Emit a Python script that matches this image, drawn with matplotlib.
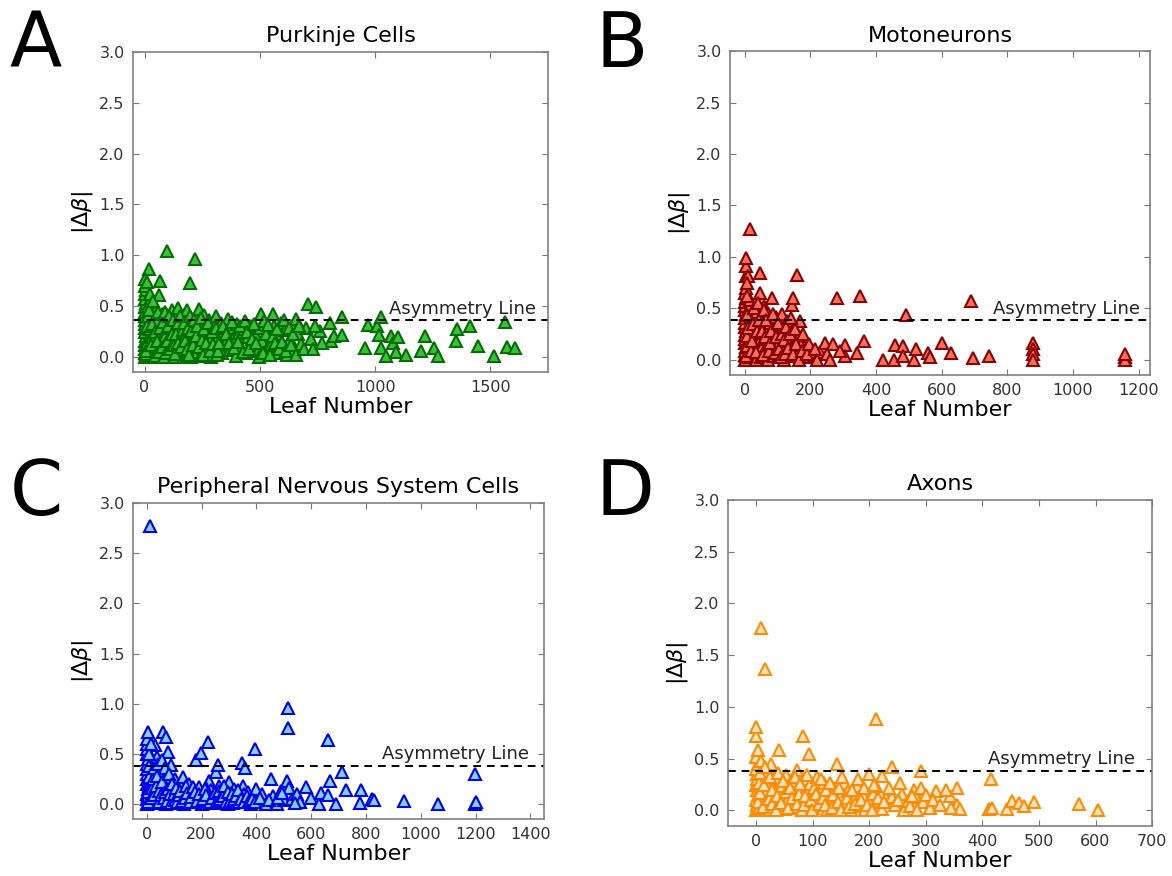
import numpy as np
import matplotlib
matplotlib.use("Agg")
import matplotlib.pyplot as plt

# values (leaf number, |delta beta|)
purkinje_pts = [
    (2, 0.00), (4, 0.04), (1, 0.08), (3, 0.12), (2, 0.16), (5, 0.20), (1, 0.24), (3, 0.28),
    (2, 0.32), (4, 0.36), (1, 0.40), (3, 0.44), (2, 0.49), (5, 0.53), (1, 0.57), (4, 0.62),
    (6, 0.66), (4, 0.70), (19, 0.86), (4, 0.77), (10, 0.74), (18, 0.02), (22, 0.10), (15, 0.18),
    (25, 0.27), (20, 0.35), (28, 0.43), (16, 0.50), (30, 0.58), (24, 0.62), (35, 0.05), (40, 0.15),
    (38, 0.22), (45, 0.31), (42, 0.40), (50, 0.47), (55, 0.00), (60, 0.09), (58, 0.25), (61, 0.61),
    (69, 0.75), (65, 0.36), (72, 0.18), (80, 0.03), (85, 0.28), (90, 0.12), (95, 0.42), (98, 1.04),
    (100, 0.22), (105, 0.06), (110, 0.33), (115, 0.15), (120, 0.46), (125, 0.00), (130, 0.26),
    (135, 0.38), (140, 0.10), (145, 0.48), (150, 0.20), (155, 0.03), (160, 0.31), (165, 0.13),
    (170, 0.41), (175, 0.06), (184, 0.46), (180, 0.24), (190, 0.35), (196, 0.73), (200, 0.00),
    (205, 0.17), (210, 0.28), (217, 0.96), (220, 0.09), (225, 0.38), (234, 0.47), (230, 0.02),
    (240, 0.22), (250, 0.31), (255, 0.12), (260, 0.41), (265, 0.05), (270, 0.26), (280, 0.36),
    (285, 0.16), (290, 0.00), (300, 0.30), (305, 0.09), (310, 0.40), (320, 0.20), (330, 0.33),
    (335, 0.04), (345, 0.25), (350, 0.13), (360, 0.37), (370, 0.07), (375, 0.28), (385, 0.18),
    (395, 0.01), (400, 0.32), (410, 0.23), (420, 0.10), (430, 0.27), (440, 0.04), (450, 0.19),
    (460, 0.30), (470, 0.13), (480, 0.22), (490, 0.06), (504, 0.42), (500, 0.28), (510, 0.16),
    (520, 0.35), (530, 0.08), (540, 0.25), (550, 0.12), (558, 0.42), (560, 0.30), (570, 0.04),
    (580, 0.20), (590, 0.33), (600, 0.10), (610, 0.26), (620, 0.02), (630, 0.18), (640, 0.30),
    (650, 0.07), (659, 0.37), (665, 0.22), (680, 0.13), (700, 0.28), (709, 0.52), (720, 0.18),
    (745, 0.49), (760, 0.25), (803, 0.33), (810, 0.16), (820, 0.20), (856, 0.39), (856, 0.21),
    (954, 0.09), (968, 0.31), (1007, 0.30), (1019, 0.21), (1025, 0.39), (1025, 0.09), (1047, 0.01),
    (1069, 0.20), (1076, 0.14), (1091, 0.05), (1098, 0.19), (1134, 0.02), (1200, 0.06), (1215, 0.20),
    (1256, 0.09), (1274, 0.01), (1352, 0.16), (1357, 0.27), (1411, 0.30), (1446, 0.11), (1515, 0.01),
    (1562, 0.34), (1572, 0.10), (1606, 0.09),
    (8, 0.03), (12, 0.14), (30, 0.08), (32, 0.19), (48, 0.11), (52, 0.36), (70, 0.02), (75, 0.42),
    (88, 0.20), (92, 0.34), (108, 0.14), (118, 0.03), (128, 0.18), (138, 0.30), (150, 0.06),
    (162, 0.20), (178, 0.00), (195, 0.12), (212, 0.05), (245, 0.01), (275, 0.10), (315, 0.02),
    (5, 0.06), (10, 0.30), (14, 0.40), (20, 0.46), (26, 0.12), (33, 0.32), (36, 0.55), (44, 0.01),
    (47, 0.24), (53, 0.16), (57, 0.44), (63, 0.05), (67, 0.28), (74, 0.10), (78, 0.34), (83, 0.00),
    (87, 0.44), (93, 0.04), (97, 0.16), (103, 0.30), (107, 0.40), (112, 0.08), (117, 0.22),
    (123, 0.36), (127, 0.12), (133, 0.03), (137, 0.22), (143, 0.33), (147, 0.14), (153, 0.40),
    (158, 0.10), (167, 0.26), (172, 0.33), (177, 0.16), (183, 0.08), (188, 0.28), (193, 0.02),
    (198, 0.40), (203, 0.25), (208, 0.12), (215, 0.36), (222, 0.20), (228, 0.30), (236, 0.10),
    (243, 0.38), (248, 0.17), (253, 0.02), (258, 0.27), (268, 0.14), (275, 0.33), (283, 0.06),
    (293, 0.24), (298, 0.13), (308, 0.28), (318, 0.06), (325, 0.14), (340, 0.30), (355, 0.22),
    (365, 0.14), (380, 0.34), (390, 0.09), (405, 0.15), (415, 0.30), (425, 0.05), (435, 0.35),
    (445, 0.24), (455, 0.08), (465, 0.18), (475, 0.32), (485, 0.14), (495, 0.00), (515, 0.04),
    (525, 0.22), (535, 0.31), (545, 0.02), (555, 0.20), (565, 0.14), (575, 0.27), (585, 0.08),
    (595, 0.15), (605, 0.36), (615, 0.06), (625, 0.28), (635, 0.12), (645, 0.22), (655, 0.02),
    (672, 0.30), (690, 0.08), (730, 0.08), (770, 0.14), (740, 0.30),
]

moto_pts = [
    (0, 0.00), (2, 0.04), (1, 0.08), (3, 0.12), (0, 0.16), (2, 0.20), (1, 0.24), (3, 0.28),
    (0, 0.32), (2, 0.36), (1, 0.40), (3, 0.44), (0, 0.48), (2, 0.52), (1, 0.56), (3, 0.60),
    (0, 0.65), (3, 0.70), (3, 0.81), (3, 0.91), (3, 0.99), (17, 1.27), (10, 0.81),
    (12, 0.02), (15, 0.10), (10, 0.18), (18, 0.26), (14, 0.34), (20, 0.42), (12, 0.50), (16, 0.58),
    (25, 0.05), (28, 0.14), (30, 0.22), (26, 0.30), (32, 0.38), (35, 0.00), (38, 0.46), (40, 0.09),
    (42, 0.17), (46, 0.84), (46, 0.65), (45, 0.26), (48, 0.33), (50, 0.02), (52, 0.12), (55, 0.40),
    (58, 0.20), (60, 0.52), (62, 0.06), (65, 0.30), (68, 0.14), (70, 0.45), (72, 0.00), (75, 0.24),
    (78, 0.36), (82, 0.60), (82, 0.10), (85, 0.18), (88, 0.03), (90, 0.30), (95, 0.41), (98, 0.13),
    (100, 0.22), (105, 0.05), (108, 0.34), (113, 0.44), (115, 0.15), (120, 0.00), (122, 0.26),
    (128, 0.08), (130, 0.37), (135, 0.18), (140, 0.03), (144, 0.53), (146, 0.60), (145, 0.28),
    (150, 0.12), (155, 0.21), (159, 0.82), (160, 0.05), (164, 0.23), (169, 0.37), (170, 0.14),
    (180, 0.02), (185, 0.10), (198, 0.02), (200, 0.07), (210, 0.03), (229, 0.07), (243, 0.16),
    (270, 0.15), (282, 0.60), (306, 0.14), (306, 0.03), (341, 0.06), (352, 0.62), (364, 0.18),
    (421, 0.00), (456, 0.00), (458, 0.14), (482, 0.13), (482, 0.03), (492, 0.43), (516, 0.00),
    (521, 0.10), (557, 0.06), (564, 0.02), (602, 0.16), (629, 0.06), (690, 0.57), (694, 0.01),
    (744, 0.03), (879, 0.16), (879, 0.10), (879, 0.05), (879, 0.00), (1159, 0.02), (1159, 0.00),
    (1160, 0.05),
    (5, 0.03), (8, 0.13), (6, 0.23), (9, 0.31), (7, 0.43), (8, 0.62), (6, 0.74), (20, 0.08),
    (22, 0.18), (24, 0.35), (27, 0.50), (33, 0.07), (36, 0.28), (40, 0.55), (44, 0.38), (53, 0.28),
    (56, 0.04), (58, 0.48), (63, 0.22), (66, 0.38), (73, 0.08), (77, 0.16), (80, 0.28), (86, 0.44),
    (92, 0.06), (94, 0.22), (102, 0.36), (104, 0.10), (110, 0.02), (112, 0.25), (118, 0.19),
    (124, 0.05), (126, 0.32), (132, 0.11), (138, 0.25), (142, 0.40), (148, 0.05), (152, 0.30),
    (157, 0.15), (165, 0.00), (175, 0.08), (178, 0.25), (190, 0.05), (195, 0.15), (215, 0.10),
    (220, 0.00), (250, 0.05), (260, 0.00), (290, 0.08),
]

pns_pts = [
    (0, 0.00), (2, 0.05), (0, 0.10), (3, 0.15), (1, 0.20), (0, 0.25), (2, 0.30), (1, 0.35),
    (0, 0.40), (3, 0.45), (1, 0.50), (2, 0.55), (0, 0.60), (2, 0.65), (6, 0.72), (12, 2.77),
    (10, 0.02), (15, 0.12), (12, 0.22), (18, 0.32), (20, 0.06), (25, 0.17), (22, 0.42), (30, 0.59),
    (30, 0.27), (36, 0.47), (35, 0.01), (40, 0.10), (45, 0.35), (48, 0.20), (55, 0.04), (58, 0.72),
    (60, 0.14), (62, 0.28), (70, 0.00), (72, 0.67), (72, 0.09), (78, 0.52), (78, 0.21), (85, 0.05),
    (90, 0.39), (90, 0.15), (100, 0.01), (105, 0.25), (110, 0.10), (120, 0.04), (125, 0.18),
    (132, 0.27), (135, 0.00), (140, 0.12), (150, 0.06), (155, 0.20), (165, 0.02), (170, 0.13),
    (180, 0.44), (180, 0.07), (190, 0.17), (198, 0.51), (200, 0.00), (210, 0.10), (220, 0.04),
    (224, 0.62), (228, 0.23), (235, 0.14), (245, 0.01), (252, 0.32), (255, 0.08), (260, 0.39),
    (265, 0.18), (275, 0.03), (285, 0.12), (295, 0.00), (300, 0.22), (310, 0.06), (320, 0.15),
    (330, 0.02), (340, 0.10), (348, 0.41), (350, 0.18), (360, 0.36), (360, 0.04), (370, 0.12),
    (380, 0.00), (390, 0.07), (396, 0.55), (400, 0.15), (410, 0.03), (420, 0.10), (435, 0.00),
    (452, 0.25), (460, 0.08), (474, 0.00), (490, 0.13), (500, 0.04), (512, 0.23), (516, 0.96),
    (516, 0.76), (520, 0.16), (530, 0.05), (550, 0.10), (560, 0.02), (582, 0.17), (600, 0.06),
    (630, 0.00), (636, 0.11), (660, 0.09), (663, 0.64), (668, 0.23), (690, 0.00), (711, 0.32),
    (728, 0.14), (783, 0.14), (779, 0.01), (821, 0.05), (831, 0.04), (940, 0.03), (1062, 0.00),
    (1197, 0.30), (1197, 0.00), (1200, 0.02),
    (5, 0.08), (8, 0.18), (14, 0.28), (28, 0.02), (32, 0.13), (42, 0.06), (50, 0.28), (64, 0.02),
    (68, 0.18), (82, 0.11), (95, 0.06), (115, 0.16), (128, 0.08), (145, 0.02), (160, 0.10),
    (175, 0.02), (195, 0.07), (215, 0.16), (240, 0.06), (270, 0.11), (290, 0.06), (315, 0.01),
    (335, 0.07), (355, 0.10), (375, 0.05),
    (4, 0.02), (6, 0.12), (8, 0.27), (9, 0.38), (10, 0.50), (14, 0.60), (16, 0.06), (20, 0.16),
    (24, 0.25), (26, 0.36), (28, 0.09), (34, 0.18), (38, 0.28), (40, 0.40), (44, 0.02), (46, 0.13),
    (52, 0.09), (54, 0.22), (56, 0.44), (62, 0.06), (66, 0.12), (68, 0.36), (74, 0.03), (76, 0.15),
    (80, 0.30), (84, 0.10), (88, 0.01), (94, 0.20), (98, 0.10), (104, 0.04), (108, 0.16),
    (112, 0.02), (118, 0.09), (122, 0.13), (130, 0.03), (138, 0.06), (142, 0.18), (148, 0.11),
    (158, 0.02), (162, 0.07), (168, 0.17), (178, 0.12), (185, 0.03), (192, 0.10), (205, 0.05),
    (212, 0.15), (218, 0.09), (230, 0.02), (238, 0.06), (248, 0.11), (258, 0.03), (262, 0.13),
    (268, 0.05), (280, 0.08), (282, 0.18), (288, 0.02), (298, 0.12), (305, 0.03), (312, 0.10),
    (318, 0.05), (325, 0.08), (332, 0.14), (338, 0.02), (345, 0.05), (355, 0.02), (365, 0.08),
    (372, 0.03), (385, 0.05), (395, 0.02), (415, 0.06), (445, 0.04), (480, 0.06), (495, 0.11),
    (540, 0.01),
]

axon_pts = [
    (0, 0.00), (2, 0.05), (0, 0.10), (3, 0.15), (1, 0.20), (0, 0.25), (2, 0.30), (1, 0.35),
    (0, 0.40), (3, 0.45), (0, 0.52), (3, 0.58), (0, 0.72), (0, 0.81), (8, 1.76), (15, 1.37),
    (5, 0.02), (10, 0.12), (8, 0.22), (12, 0.32), (15, 0.06), (18, 0.17), (20, 0.27), (22, 0.38),
    (26, 0.45), (25, 0.00), (30, 0.10), (32, 0.20), (35, 0.30), (40, 0.04), (41, 0.58), (42, 0.14),
    (45, 0.24), (50, 0.01), (52, 0.34), (55, 0.09), (58, 0.18), (62, 0.28), (65, 0.03), (70, 0.13),
    (72, 0.39), (75, 0.22), (80, 0.00), (82, 0.72), (85, 0.30), (88, 0.08), (92, 0.17), (93, 0.55),
    (95, 0.26), (100, 0.02), (105, 0.12), (108, 0.32), (112, 0.20), (115, 0.05), (120, 0.27),
    (125, 0.00), (128, 0.15), (132, 0.09), (138, 0.22), (142, 0.45), (142, 0.03), (148, 0.14),
    (155, 0.27), (158, 0.06), (162, 0.19), (168, 0.00), (172, 0.11), (178, 0.24), (182, 0.04),
    (188, 0.15), (192, 0.00), (199, 0.35), (200, 0.09), (206, 0.16), (211, 0.88), (212, 0.24),
    (218, 0.03), (222, 0.33), (222, 0.01), (230, 0.12), (240, 0.42), (240, 0.13), (245, 0.05),
    (258, 0.16), (262, 0.00), (268, 0.09), (279, 0.20), (282, 0.13), (292, 0.38), (292, 0.22),
    (295, 0.08), (308, 0.02), (317, 0.19), (343, 0.14), (355, 0.22), (355, 0.05), (360, 0.01),
    (415, 0.30), (411, 0.01), (416, 0.02), (443, 0.01), (452, 0.09), (465, 0.07), (474, 0.04),
    (492, 0.08), (570, 0.06), (604, 0.00),
    (3, 0.08), (6, 0.17), (4, 0.27), (7, 0.36), (9, 0.48), (12, 0.03), (14, 0.25), (16, 0.42),
    (22, 0.11), (24, 0.32), (28, 0.06), (28, 0.20), (34, 0.00), (36, 0.14), (38, 0.36), (44, 0.07),
    (48, 0.28), (52, 0.18), (56, 0.02), (60, 0.22), (64, 0.12), (68, 0.32), (72, 0.06), (76, 0.16),
    (78, 0.26), (84, 0.05), (86, 0.14), (90, 0.34), (96, 0.10), (98, 0.00), (102, 0.22),
    (106, 0.16), (110, 0.06), (114, 0.30), (118, 0.12), (122, 0.05), (124, 0.20), (130, 0.27),
    (134, 0.02), (136, 0.15), (144, 0.08), (146, 0.22), (150, 0.00), (152, 0.32), (160, 0.12),
    (164, 0.03), (170, 0.20), (175, 0.06), (180, 0.30), (185, 0.10), (190, 0.22), (196, 0.05),
    (204, 0.00), (208, 0.25), (215, 0.12), (226, 0.08), (234, 0.22), (250, 0.10), (255, 0.27),
    (272, 0.04), (275, 0.14), (285, 0.00), (300, 0.15), (312, 0.10), (325, 0.05), (335, 0.20),
    (345, 0.02),
]

asym_level = [0.36, 0.38, 0.38, 0.386]

panels = [
    ("A", "Purkinje Cells", purkinje_pts, "#3cc03c", "#006e00", (-50, 1750), [0, 500, 1000, 1500], 1700),
    ("B", "Motoneurons", moto_pts, "#f27060", "#8b0000", (-45, 1235), list(range(0, 1201, 200)), 1205),
    ("C", "Peripheral Nervous System Cells", pns_pts, "#7fd0ff", "#0000e6", (-50, 1450), list(range(0, 1401, 200)), 1395),
    ("D", "Axons", axon_pts, "#ffe2bd", "#ff8c00", (-50, 700), list(range(0, 701, 100)), 670),
]

# axes rectangles in figure fractions (left, bottom, width, height)
rects = [
    (0.1135, 0.5753, 0.3541, 0.3653),
    (0.6229, 0.5720, 0.3584, 0.3695),
    (0.1135, 0.0650, 0.3507, 0.3608),
    (0.6212, 0.0571, 0.3618, 0.3722),
]
letter_pos = [(0.008, 0.924), (0.508, 0.924), (0.008, 0.412), (0.508, 0.412)]

fig = plt.figure(figsize=(11.72, 8.76), dpi=100)

for i, (letter, title, pts, fc, ec, xlim, xt, txt_x) in enumerate(panels):
    ax = fig.add_axes(rects[i])
    x = np.array([p[0] for p in pts])
    y = np.array([p[1] for p in pts])
    ax.plot(x, y, "^", ls="none", ms=8.5, mfc=fc, mec=ec, mew=1.5)
    ax.axhline(asym_level[i], color="black", ls="--", lw=1.4, dashes=(4, 3))
    ax.text(txt_x, asym_level[i] + 0.065, "Asymmetry Line", ha="right", va="baseline",
            fontsize=13, color="#222222")
    ax.set_xlim(*xlim)
    ax.set_ylim(-0.15, 3.0)
    ax.set_xticks(xt)
    ax.set_yticks(np.arange(0, 3.01, 0.5))
    ax.set_yticklabels(["%.1f" % v for v in np.arange(0, 3.01, 0.5)])
    ax.tick_params(direction="in", top=True, right=True, length=4, width=0.8,
                   labelsize=11.5, labelcolor="#333333", color="#777777", pad=6)
    for s in ax.spines.values():
        s.set_color("#808080")
        s.set_linewidth(1.2)
    ax.set_title(title, fontsize=16, pad=7)
    ax.set_xlabel("Leaf Number", fontsize=16, labelpad=1)
    ax.set_ylabel(r"$|\Delta\beta|$", fontsize=16, labelpad=3)
    fig.text(letter_pos[i][0], letter_pos[i][1], letter, fontsize=55, va="baseline")

fig.savefig("out.png", dpi=100, facecolor="white")
